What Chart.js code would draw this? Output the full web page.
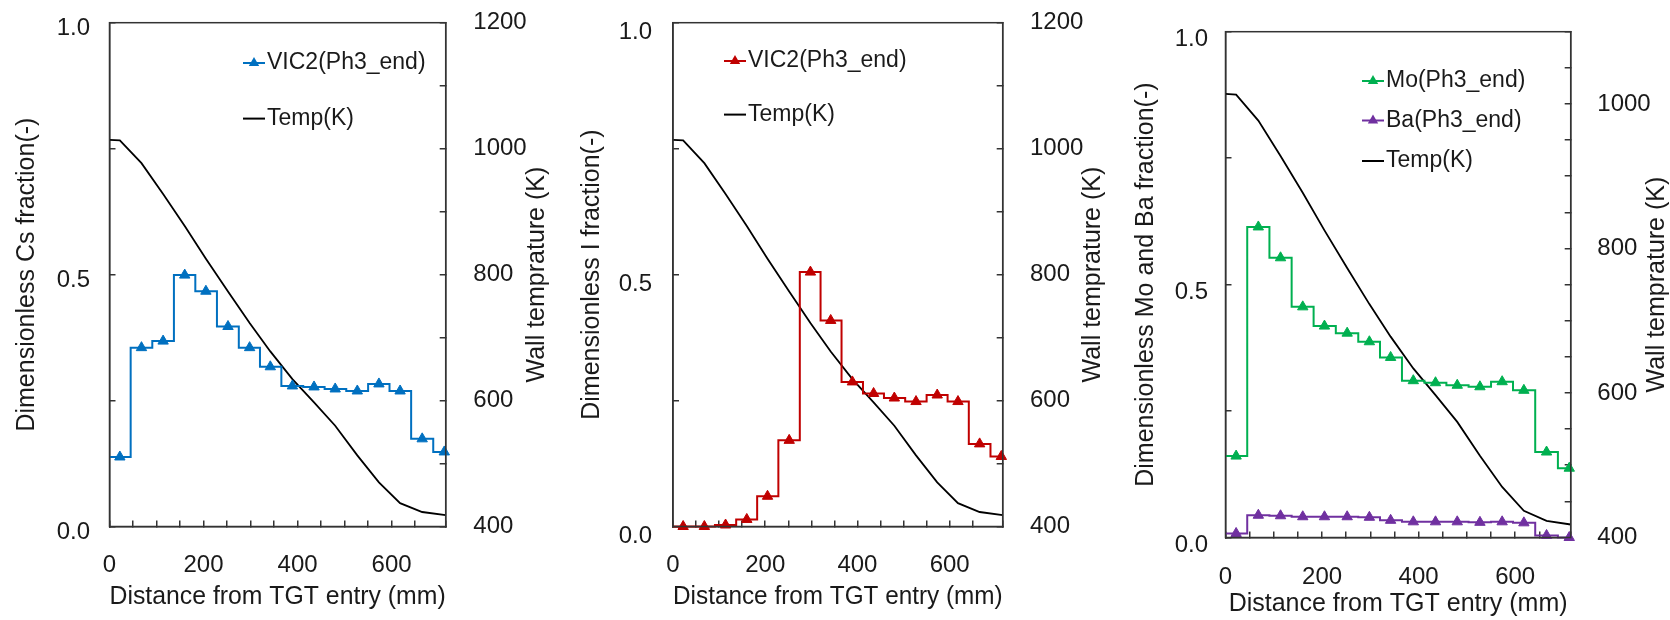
<!DOCTYPE html>
<html lang="en">
<head>
<meta charset="UTF-8">
<title>TGT deposition profiles</title>
<script src="https://cdn.jsdelivr.net/npm/chart.js@4"></script>
<style>
  body { margin: 0; background: #fff; }
  #wrap { position: relative; width: 1670px; height: 620px; }
  #wrap canvas { position: absolute; top: 0; }
</style>
</head>
<body>
<div id="wrap">
  <canvas id="csChart" width="560" height="620" style="left:0px"></canvas>
  <canvas id="iChart" width="550" height="620" style="left:560px"></canvas>
  <canvas id="moChart" width="560" height="620" style="left:1110px"></canvas>
</div>
<script>
// bin centres along the TGT (mm)
const binX = [22, 68, 114, 160, 205, 252, 298, 342, 389, 435, 480, 527, 573, 618, 665, 712];
// dimensionless fractions at the end of phase 3
const csFrac = [0.138, 0.355, 0.368, 0.499, 0.467, 0.397, 0.355, 0.317, 0.279, 0.277, 0.273, 0.269, 0.283, 0.269, 0.174, 0.148];
const iFrac  = [0.0, 0.0, 0.003, 0.014, 0.06, 0.171, 0.505, 0.409, 0.287, 0.264, 0.255, 0.248, 0.261, 0.248, 0.164, 0.139];
const moFrac = [0.161, 0.614, 0.553, 0.456, 0.418, 0.404, 0.387, 0.356, 0.310, 0.306, 0.301, 0.298, 0.308, 0.291, 0.169, 0.137];
const baFrac = [0.008, 0.044, 0.043, 0.041, 0.041, 0.041, 0.040, 0.034, 0.031, 0.031, 0.031, 0.030, 0.031, 0.029, 0.004, 0.0];
// wall temperature profile
const tempX = [0, 22, 68, 114, 160, 205, 252, 298, 342, 389, 435, 480, 527, 573, 618, 665, 715];
const tempK = [1014, 1013, 977, 928, 877, 825, 773, 723, 678, 634, 597, 560, 513, 470, 437, 423, 418];
// tick labels
const xTickLabels = [0, 200, 400, 600];
const fracTickLabels = [0.0, 0.5, 1.0];
const tempTickLabels = [400, 600, 800, 1000, 1200];

const X_MAX = 715;
const FONT = "'Liberation Sans', Arial, sans-serif";
const INK = '#1a1a1a';
const FRAME = '#333';

// step line padded out to both ends of the axis
function stepData(vals) {
  const pts = binX.map((x, i) => ({ x: x, y: vals[i] }));
  return [{ x: 0, y: vals[0] }].concat(pts, [{ x: X_MAX, y: vals[vals.length - 1] }]);
}

function fracSet(label, vals, color) {
  const n = vals.length + 1;
  return {
    label: label, data: stepData(vals), yAxisID: 'y',
    borderColor: color, backgroundColor: color, borderWidth: 2,
    stepped: 'middle', clip: false,
    pointStyle: 'triangle',
    pointRadius: c => (c.dataIndex === 0 || c.dataIndex === n) ? 0 : 6,
    pointBorderWidth: 1
  };
}

function tempSet() {
  return {
    label: 'Temp(K)', data: tempX.map((x, i) => ({ x: x, y: tempK[i] })), yAxisID: 'y2',
    borderColor: '#000', borderWidth: 1.8, pointRadius: 0, tension: 0
  };
}

function near(list, v) { return list.some(t => Math.abs(t - v) < 1e-6); }

// keep the plot box where we put it, whatever the label padding says
function noPad(s) { s.paddingTop = 0; s.paddingBottom = 0; s.paddingLeft = 0; s.paddingRight = 0; }

const panelDeco = {
  id: 'panelDeco',
  afterDraw(chart, args, o) {
    const ctx = chart.ctx, a = chart.chartArea;
    ctx.save();
    ctx.strokeStyle = FRAME;
    ctx.lineWidth = 1.5;
    ctx.strokeRect(a.left, a.top, a.right - a.left, a.bottom - a.top);

    // right axis title, reading bottom to top
    ctx.fillStyle = INK;
    ctx.font = '25px ' + FONT;
    ctx.textAlign = 'center';
    ctx.textBaseline = 'middle';
    ctx.translate(o.rightTitleX, (a.top + a.bottom) / 2);
    ctx.rotate(-Math.PI / 2);
    ctx.fillText('Wall temprature (K)', 0, 0);
    ctx.restore();

    // legend
    ctx.save();
    ctx.font = '23px ' + FONT;
    ctx.textBaseline = 'middle';
    ctx.textAlign = 'left';
    o.legend.forEach((it, i) => {
      const y = o.legendRows[i], x = o.legendX;
      ctx.strokeStyle = it.color;
      ctx.lineWidth = 2;
      ctx.beginPath(); ctx.moveTo(x, y); ctx.lineTo(x + 22, y); ctx.stroke();
      if (it.marker) {
        const cx = x + 11, r = 6;
        ctx.fillStyle = it.color;
        ctx.beginPath();
        ctx.moveTo(cx, y - r);
        ctx.lineTo(cx + r * 0.866, y + r * 0.5);
        ctx.lineTo(cx - r * 0.866, y + r * 0.5);
        ctx.closePath(); ctx.fill();
      }
      ctx.fillStyle = INK;
      ctx.fillText(it.label, x + 24, y);
    });
    ctx.restore();
  }
};

function makePanel(id, datasets, p) {
  const tickFont = { family: FONT, size: 24 };
  const grid = { drawOnChartArea: false, drawTicks: true, tickLength: -6, color: FRAME, lineWidth: 1.5 };
  const border = { display: true, color: FRAME, width: 1.5 };
  return new Chart(document.getElementById(id), {
    type: 'line',
    data: { datasets: datasets },
    options: {
      responsive: false,
      animation: false,
      layout: { autoPadding: false, padding: { top: p.top, left: 0, right: 0, bottom: 0 } },
      plugins: {
        legend: { display: false },
        tooltip: { enabled: false },
        panelDeco: { rightTitleX: p.rightTitleX, legendX: p.legendX, legendRows: p.legendRows, legend: p.legend }
      },
      scales: {
        x: {
          type: 'linear', min: 0, max: X_MAX,
          afterFit: s => { s.height = 620 - p.bottom; noPad(s); },
          grid: grid, border: border,
          ticks: {
            stepSize: 50, autoSkip: false, maxRotation: 0, minRotation: 0,
            padding: p.xTickPad, color: INK, font: tickFont,
            callback: v => near(xTickLabels, v) ? String(v) : ''
          },
          title: {
            display: true, text: 'Distance from TGT entry (mm)', color: INK,
            font: { family: FONT, size: 25 }, padding: { top: 0, bottom: p.xTitlePad }
          }
        },
        y: {
          position: 'left', min: 0, max: 1,
          afterFit: s => { s.width = p.left; noPad(s); },
          grid: grid, border: border,
          ticks: {
            stepSize: 0.25, autoSkip: false, padding: p.yTickPad, labelOffset: p.yLabelShift,
            color: INK, font: tickFont,
            callback: v => near(fracTickLabels, v) ? v.toFixed(1) : ''
          },
          title: {
            display: true, text: p.yTitle, color: INK,
            font: { family: FONT, size: 25 }, padding: { top: p.yTitlePad, bottom: 0 }
          }
        },
        y2: {
          position: 'right', min: 400, max: p.kMax,
          afterFit: s => { s.width = p.rightW; noPad(s); },
          grid: grid, border: border,
          ticks: {
            stepSize: p.kStep, autoSkip: false, padding: p.y2TickPad, color: INK, font: tickFont,
            callback: v => near(tempTickLabels, v) ? String(v) : ''
          }
        }
      }
    },
    plugins: [panelDeco]
  });
}

makePanel('csChart',
  [fracSet('VIC2(Ph3_end)', csFrac, '#0070C0'), tempSet()],
  { top: 22.7, bottom: 526.5, left: 109.5, rightW: 114.3, kMax: 1200, kStep: 100,
    xTickPad: 30.5, xTitlePad: 7.6, yTickPad: 25.5, yTitlePad: 12, y2TickPad: 33.6, yLabelShift: 6,
    yTitle: 'Dimensionless Cs fraction(-)', rightTitleX: 537,
    legendX: 243, legendRows: [63, 118.6],
    legend: [{ label: 'VIC2(Ph3_end)', color: '#0070C0', marker: true }, { label: 'Temp(K)', color: '#000' }] });

makePanel('iChart',
  [fracSet('VIC2(Ph3_end)', iFrac, '#C00000'), tempSet()],
  { top: 22.7, bottom: 526.5, left: 113, rightW: 107.3, kMax: 1200, kStep: 100,
    xTickPad: 30.5, xTitlePad: 7.6, yTickPad: 27, yTitlePad: 17.5, y2TickPad: 33.3, yLabelShift: 10,
    yTitle: 'Dimensionless I fraction(-)', rightTitleX: 533,
    legendX: 164, legendRows: [61, 114.6],
    legend: [{ label: 'VIC2(Ph3_end)', color: '#C00000', marker: true }, { label: 'Temp(K)', color: '#000' }] });

makePanel('moChart',
  [fracSet('Mo(Ph3_end)', moFrac, '#00B050'), fracSet('Ba(Ph3_end)', baFrac, '#7030A0'), tempSet()],
  { top: 31.7, bottom: 537.5, left: 115.5, rightW: 99.3, kMax: 1100, kStep: 50,
    xTickPad: 31.5, xTitlePad: 0.6, yTickPad: 23.5, yTitlePad: 21, y2TickPad: 32.6, yLabelShift: 8,
    yTitle: 'Dimensionless Mo and Ba fraction(-)', rightTitleX: 547,
    legendX: 252, legendRows: [81, 120.5, 161],
    legend: [{ label: 'Mo(Ph3_end)', color: '#00B050', marker: true },
             { label: 'Ba(Ph3_end)', color: '#7030A0', marker: true },
             { label: 'Temp(K)', color: '#000' }] });
</script>
</body>
</html>
